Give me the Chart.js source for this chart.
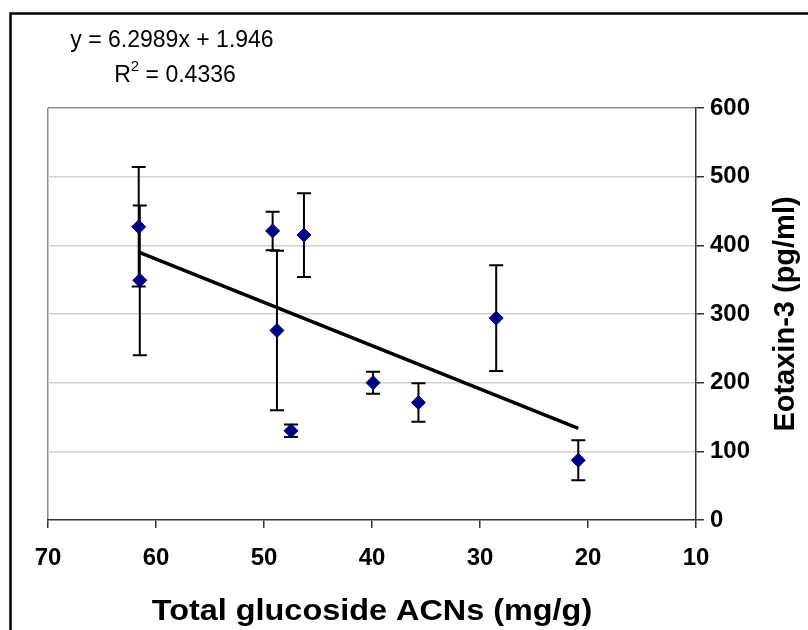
<!DOCTYPE html>
<html>
<head>
<meta charset="utf-8">
<script src="https://cdn.jsdelivr.net/npm/chart.js@4.4.0/dist/chart.umd.min.js"></script>
<style>
  html, body { margin: 0; padding: 0; background: #fff; }
  #wrap { width: 808px; height: 630px; }
</style>
</head>
<body>
<div id="wrap"><canvas id="eotaxinChart" width="808" height="630"></canvas></div>
<script>
// Eotaxin-3 vs total glucoside ACNs, mean +/- SD
const acnMg = [61.6, 61.5, 49.2, 46.3, 48.8, 47.5, 39.9, 35.7, 28.5, 20.9];
const eotaxin = [427, 349, 421, 415, 276, 130, 200, 171, 294, 87];
const eotaxinSd = [87, 109, 28, 61, 116, 9, 16, 28, 77, 29];
const xTicks = [70, 60, 50, 40, 30, 20, 10];
const yTicks = [0, 100, 200, 300, 400, 500, 600];

// linear fit as reported
const trendSlope = 6.2989;
const trendIntercept = 1.946;
const trendR2 = 0.4336;

const FONT = '"Liberation Sans", Arial, sans-serif';

const points = acnMg.map((x, i) => ({ x: x, y: eotaxin[i] }));
const xMin = Math.min(...acnMg);
const xMax = Math.max(...acnMg);
const trendPoints = [xMin, xMax].map(x => ({ x: x, y: trendSlope * x + trendIntercept }));

const decorPlugin = {
    id: 'decor',
    beforeDraw(chart) {
        const ctx = chart.ctx;
        ctx.save();
        ctx.fillStyle = '#fff';
        ctx.fillRect(0, 0, chart.width, chart.height);
        // outer frame (runs off the right and bottom edges)
        ctx.strokeStyle = '#000';
        ctx.lineWidth = 2.5;
        ctx.beginPath();
        ctx.moveTo(10.5, chart.height + 2);
        ctx.lineTo(10.5, 13.5);
        ctx.lineTo(chart.width + 2, 13.5);
        ctx.stroke();
        ctx.restore();
    },
    beforeDatasetsDraw(chart) {
        // error bars
        const ctx = chart.ctx;
        const xs = chart.scales.x, ys = chart.scales.y;
        ctx.save();
        ctx.strokeStyle = '#000';
        ctx.lineWidth = 2;
        acnMg.forEach((xv, i) => {
            const px = xs.getPixelForValue(xv);
            const top = ys.getPixelForValue(eotaxin[i] + eotaxinSd[i]);
            const bot = ys.getPixelForValue(eotaxin[i] - eotaxinSd[i]);
            ctx.beginPath();
            ctx.moveTo(px, top);
            ctx.lineTo(px, bot);
            ctx.moveTo(px - 7, top);
            ctx.lineTo(px + 7, top);
            ctx.moveTo(px - 7, bot);
            ctx.lineTo(px + 7, bot);
            ctx.stroke();
        });
        ctx.restore();
    },
    afterDraw(chart) {
        const ctx = chart.ctx;
        const area = chart.chartArea;
        ctx.save();
        ctx.fillStyle = '#000';

        // trendline equation
        ctx.font = '23px ' + FONT;
        ctx.textAlign = 'center';
        ctx.textBaseline = 'alphabetic';
        ctx.fillText('y = ' + trendSlope + 'x + ' + trendIntercept, 172, 47);

        const rest = ' = ' + trendR2;
        ctx.font = '23px ' + FONT;
        const wR = ctx.measureText('R').width;
        const wRest = ctx.measureText(rest).width;
        ctx.font = '15px ' + FONT;
        const wSup = ctx.measureText('2').width;
        let x0 = 175 - (wR + wSup + wRest) / 2;
        ctx.textAlign = 'left';
        ctx.font = '23px ' + FONT;
        ctx.fillText('R', x0, 82);
        ctx.font = '15px ' + FONT;
        ctx.fillText('2', x0 + wR, 71);
        ctx.font = '23px ' + FONT;
        ctx.fillText(rest, x0 + wR + wSup, 82);

        // axis titles
        ctx.textAlign = 'center';
        ctx.textBaseline = 'alphabetic';
        ctx.save();
        ctx.font = 'bold 30px ' + FONT;
        ctx.translate((area.left + area.right) / 2, 620);
        ctx.scale(1.08, 1);
        ctx.fillText('Total glucoside ACNs (mg/g)', 0, 0);
        ctx.restore();

        ctx.font = 'bold 29px ' + FONT;
        ctx.translate(794, (area.top + area.bottom) / 2);
        ctx.rotate(-Math.PI / 2);
        ctx.fillText('Eotaxin-3 (pg/ml)', 0, 0);
        ctx.restore();
    }
};

new Chart(document.getElementById('eotaxinChart'), {
    type: 'scatter',
    data: {
        datasets: [{
            label: 'Eotaxin-3',
            data: points,
            pointStyle: 'rectRot',
            pointRadius: 7,
            backgroundColor: '#000080',
            borderColor: '#000080',
            borderWidth: 1,
            order: 0
        }, {
            label: 'Linear fit',
            data: trendPoints,
            showLine: true,
            borderColor: '#000',
            borderWidth: 3.5,
            pointRadius: 0,
            order: 1
        }]
    },
    options: {
        responsive: false,
        animation: false,
        devicePixelRatio: 1,
        layout: { padding: { left: 48, top: 108, right: 0, bottom: 0 } },
        plugins: {
            legend: { display: false },
            tooltip: { enabled: false }
        },
        scales: {
            x: {
                type: 'linear',
                min: 10,
                max: 70,
                reverse: true,
                afterBuildTicks: scale => { scale.ticks = xTicks.map(v => ({ value: v })); },
                afterFit: scale => { scale.height = 110; },
                ticks: {
                    color: '#000',
                    font: { family: FONT, size: 24, weight: 'bold' },
                    padding: 16,
                    maxRotation: 0,
                    autoSkip: false
                },
                grid: {
                    drawOnChartArea: true,
                    color: c => (c.tick && c.tick.value === 70) ? '#8c8c8c' : 'rgba(0,0,0,0)',
                    tickColor: '#333',
                    tickLength: 8,
                    lineWidth: 1.5
                },
                border: { color: '#333', width: 1.5 }
            },
            y: {
                position: 'right',
                min: 0,
                max: 600,
                afterBuildTicks: scale => { scale.ticks = yTicks.map(v => ({ value: v })); },
                afterFit: scale => { scale.width = 112; },
                ticks: {
                    color: '#000',
                    font: { family: FONT, size: 24, weight: 'bold' },
                    padding: 6
                },
                grid: {
                    color: c => {
                        const v = c.tick ? c.tick.value : null;
                        if (v === 600) return '#8c8c8c';
                        if (v === 0) return 'rgba(0,0,0,0)';
                        return '#cfcfcf';
                    },
                    tickColor: '#333',
                    tickLength: 8,
                    lineWidth: 1.5
                },
                border: { color: '#333', width: 1.5 }
            }
        }
    },
    plugins: [decorPlugin]
});
</script>
</body>
</html>
